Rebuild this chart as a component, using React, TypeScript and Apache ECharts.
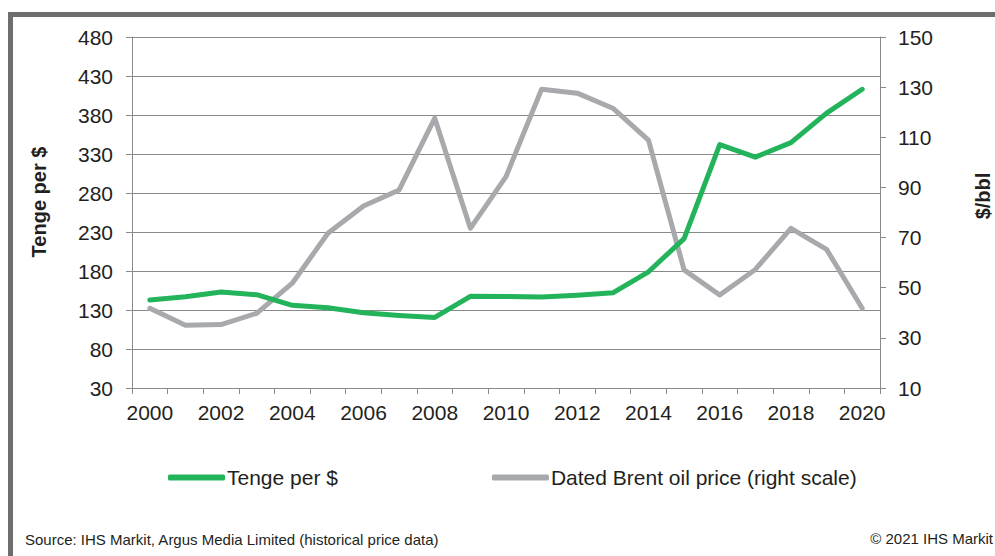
import React, { useEffect, useRef } from "react";
import * as echarts from "echarts";

const years = ["2000","2001","2002","2003","2004","2005","2006","2007","2008","2009","2010","2011","2012","2013","2014","2015","2016","2017","2018","2019","2020"];
const tengePerUsd = [142.8, 147, 153, 149.6, 136, 133, 126.5, 123, 120.5, 147.5, 147.4, 146.6, 149, 152, 179, 221.5, 342, 326, 344.5, 382.5, 413];
const brentPrice = [41.8, 35.0, 35.3, 39.8, 51.8, 71.7, 82.6, 89.0, 117.6, 73.7, 94.3, 129.2, 127.6, 121.6, 108.9, 57.1, 47.1, 57.3, 73.7, 65.3, 41.8];
const leftTicks = { min: 30, max: 480, interval: 50 };
const rightTicks = { min: 10, max: 150, interval: 20 };

const FONT = "'Liberation Sans', Arial, sans-serif";
const TXT = "#231f20";
const AXIS = "#8a8a8a";
const GREEN = "#22b35b";
const GREY = "#a7a9ac";

export default function App() {
  const ref = useRef<HTMLDivElement>(null);
  useEffect(() => {
    if (!ref.current) return;
    const chart = echarts.init(ref.current, null, { renderer: "svg" });
    chart.setOption({
      animation: false,
      backgroundColor: "#ffffff",
      textStyle: { fontFamily: FONT },
      grid: { left: 132, right: 115, top: 37, bottom: 168, containLabel: false },
      legend: {
        left: 163,
        top: 462,
        icon: "roundRect",
        itemWidth: 57,
        itemHeight: 6,
        itemGap: 154,
        textStyle: { fontFamily: FONT, fontSize: 21, color: TXT, padding: [0, 0, 0, -3] },
        data: ["Tenge per $", "Dated Brent oil price (right scale)"],
      },
      xAxis: {
        type: "category",
        data: years,
        boundaryGap: true,
        axisLine: { lineStyle: { color: AXIS, width: 1 } },
        axisTick: { show: true, length: 6, lineStyle: { color: AXIS }, interval: 0 },
        axisLabel: {
          interval: 1,
          margin: 14,
          fontSize: 21,
          color: TXT,
          fontFamily: FONT,
        },
        splitLine: { show: false },
      },
      yAxis: [
        {
          type: "value",
          min: leftTicks.min,
          max: leftTicks.max,
          interval: leftTicks.interval,
          axisLine: { show: true, lineStyle: { color: AXIS, width: 1 } },
          axisTick: { show: true, length: 6, lineStyle: { color: AXIS } },
          axisLabel: { margin: 19, fontSize: 21, color: TXT, fontFamily: FONT },
          splitLine: { show: true, lineStyle: { color: AXIS, width: 1 } },
        },
        {
          type: "value",
          min: rightTicks.min,
          max: rightTicks.max,
          interval: rightTicks.interval,
          position: "right",
          axisLine: { show: true, lineStyle: { color: AXIS, width: 1 } },
          axisTick: { show: true, length: 6, lineStyle: { color: AXIS } },
          axisLabel: { margin: 18, fontSize: 21, color: TXT, fontFamily: FONT },
          splitLine: { show: false },
        },
      ],
      series: [
        {
          name: "Tenge per $",
          type: "line",
          yAxisIndex: 0,
          data: tengePerUsd,
          symbol: "none",
          z: 3,
          lineStyle: { color: GREEN, width: 5, cap: "round", join: "round" },
          itemStyle: { color: GREEN },
        },
        {
          name: "Dated Brent oil price (right scale)",
          type: "line",
          yAxisIndex: 1,
          data: brentPrice,
          symbol: "none",
          z: 2,
          lineStyle: { color: GREY, width: 5, cap: "round", join: "round" },
          itemStyle: { color: GREY },
        },
      ],
      graphic: [
        { type: "rect", shape: { x: 8, y: 12, width: 987, height: 5 }, style: { fill: "#6d6e70" }, silent: true },
        { type: "rect", shape: { x: 8, y: 12, width: 5, height: 544 }, style: { fill: "#6d6e70" }, silent: true },
        {
          type: "text",
          x: 39,
          y: 202,
          rotation: Math.PI / 2,
          style: { text: "Tenge per $", font: `bold 20px ${FONT}`, fill: TXT, align: "center", verticalAlign: "middle" },
        },
        {
          type: "text",
          x: 983,
          y: 196,
          rotation: Math.PI / 2,
          style: { text: "$/bbl", font: `bold 20px ${FONT}`, fill: TXT, align: "center", verticalAlign: "middle" },
        },
        {
          type: "text",
          x: 25,
          y: 539,
          style: { text: "Source: IHS Markit, Argus Media Limited (historical price data)", font: `15px ${FONT}`, fill: TXT, align: "left", verticalAlign: "middle" },
        },
        {
          type: "text",
          x: 993,
          y: 538,
          style: { text: "© 2021 IHS Markit", font: `15px ${FONT}`, fill: TXT, align: "right", verticalAlign: "middle" },
        },
      ],
    });
    return () => chart.dispose();
  }, []);
  return <div ref={ref} style={{ position: "fixed", left: 0, top: 0, width: 995, height: 556 }} />;
}
